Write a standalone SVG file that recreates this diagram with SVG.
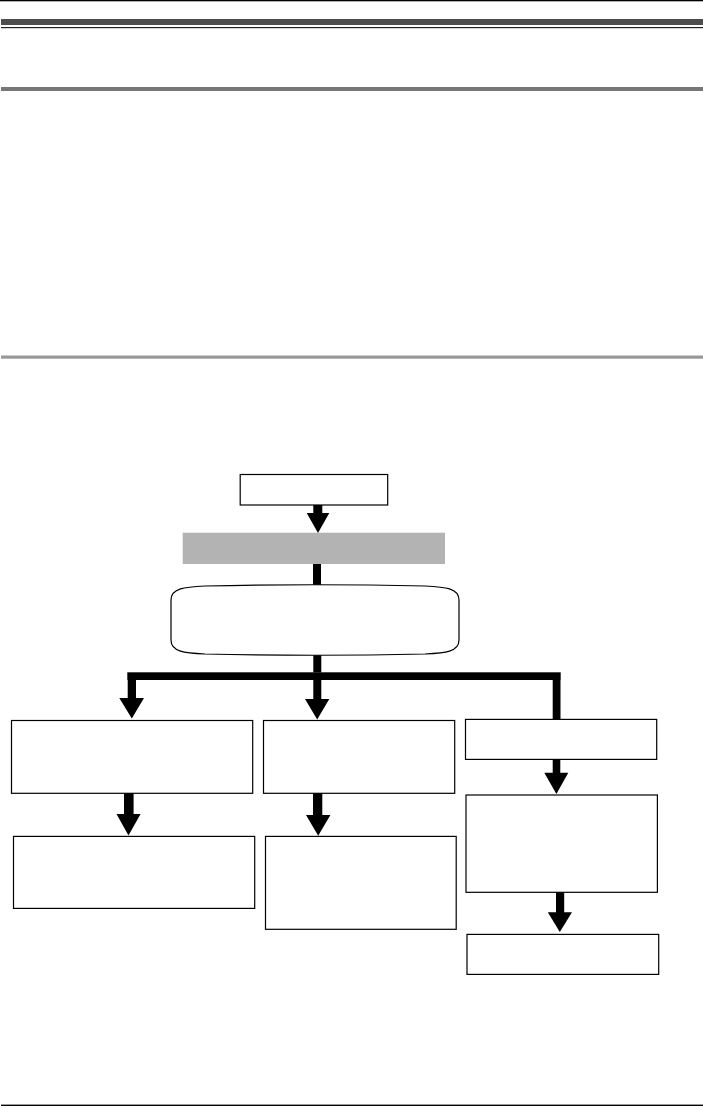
<svg xmlns="http://www.w3.org/2000/svg" width="703" height="1107" viewBox="0 0 703 1107">
<style>
.box{fill:#ffffff;stroke:#000000;stroke-width:1.2}
.conn{fill:#000000;stroke:none}
</style>
<rect x="0" y="0" width="703" height="1107" fill="#ffffff"/>
<g id="page-rules">
<rect x="0" y="0" width="703" height="1.3" fill="#000000"/>
<rect x="1" y="19" width="702" height="6" fill="#4d4d4d"/>
<rect x="1" y="27" width="702" height="1.2" fill="#222222"/>
<rect x="1" y="87" width="702" height="4" fill="#777777"/>
<rect x="1" y="355.5" width="702" height="3.2" fill="#999999"/>
<rect x="1" y="1104.6" width="702" height="1.4" fill="#000000"/>
</g>
<g id="connectors">
<polygon class="conn" points="313.3,505 322.3,505 322.3,513 329.3,513 318,533 306.7,513 313.3,513"/>
<rect class="conn" x="313" y="564" width="8" height="21.5"/>
<rect class="conn" x="313.3" y="654.5" width="8" height="18"/>
<rect class="conn" x="127.3" y="672.3" width="433.4" height="7.7"/>
<polygon class="conn" points="127.7,680 136,680 136,698 144,698 131.8,718.5 119.3,698 127.7,698"/>
<polygon class="conn" points="313.3,680 321.3,680 321.3,699 329.3,699 317.2,719.5 305,699 313.3,699"/>
<rect class="conn" x="552.7" y="680" width="7.8" height="39.5"/>
<polygon class="conn" points="124,793 133.6,793 133.6,814 140.6,814 128.5,835.5 116.5,814 124,814"/>
<polygon class="conn" points="313,793 322.3,793 322.3,815 330.4,815 318.2,835.7 306,815 313,815"/>
<polygon class="conn" points="552.7,759 560.3,759 560.3,772.7 568.3,772.7 556.4,794 544.3,772.7 552.7,772.7"/>
<polygon class="conn" points="556,892 564.2,892 564.2,912.3 572,912.3 559.8,932 547.8,912.3 556,912.3"/>
</g>
<g id="node-start"><rect class="box" x="240.2" y="474.5" width="147.5" height="30.5"/></g>
<g id="node-gray"><rect x="182.7" y="532.7" width="262.3" height="31.3" fill="#b3b3b3"/></g>
<g id="node-rounded"><path class="box" d="M171,600 C171,588 185,587 205,586 Q315,583.5 425,586 C445,587 459,588 459,600 L459,640 C459,652 445,653 425,654 Q315,656.5 205,654 C185,653 171,652 171,640 Z"/></g>
<g id="node-left-1"><rect class="box" x="11.5" y="720.5" width="241.2" height="72.8"/></g>
<g id="node-left-2"><rect class="box" x="13.5" y="836.4" width="241.2" height="72"/></g>
<g id="node-mid-1"><rect class="box" x="263.5" y="720.5" width="191.2" height="72.8"/></g>
<g id="node-mid-2"><rect class="box" x="265.5" y="836.4" width="190.7" height="92.9"/></g>
<g id="node-right-1"><rect class="box" x="465.5" y="719.4" width="191.2" height="40"/></g>
<g id="node-right-2"><rect class="box" x="466" y="795" width="191.4" height="97.3"/></g>
<g id="node-right-3"><rect class="box" x="467" y="934.4" width="191.7" height="40"/></g>
</svg>
